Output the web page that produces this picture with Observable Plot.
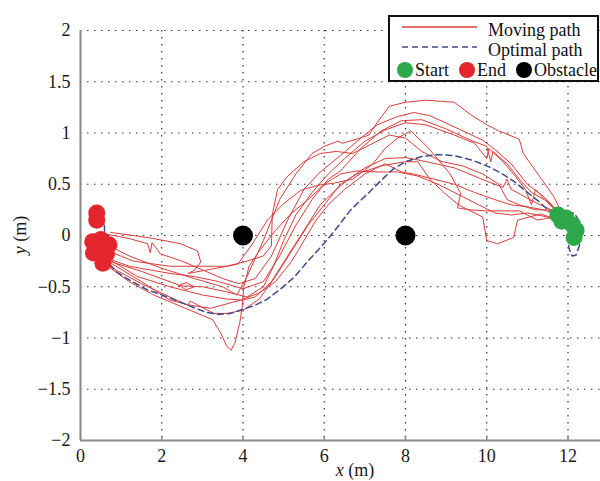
<!DOCTYPE html>
<html>
<head>
<meta charset="utf-8">
<script src="https://cdn.jsdelivr.net/npm/d3@7"></script>
<script src="https://cdn.jsdelivr.net/npm/@observablehq/plot@0.6"></script>
<style>
  body { margin: 0; background: #fff; }
  #wrap { position: relative; width: 600px; height: 481px; font-family: "Liberation Serif", "DejaVu Serif", serif; }
  #legend { position: absolute; left: 0; top: 0; }
  #chart svg, #chart svg text, #chart svg g, #legend text { font-family: "Liberation Serif", "DejaVu Serif", serif !important; }
</style>
</head>
<body>
<div id="wrap">
  <div id="chart"></div>
  <svg id="legend" width="600" height="90" font-size="18">
    <rect x="389" y="16" width="209" height="65" fill="#fff" stroke="#111" stroke-width="2"></rect>
    <line x1="402" x2="477" y1="27" y2="27" stroke="#dc3b3b" stroke-width="1.5"></line>
    <text x="488" y="36" fill="#111">Moving path</text>
    <line x1="402" x2="477" y1="47" y2="47" stroke="#3f4b8c" stroke-width="1.6" stroke-dasharray="6,4"></line>
    <text x="488" y="56" fill="#111">Optimal path</text>
    <circle cx="405" cy="70" r="8" fill="#2ca84a"></circle>
    <text x="415" y="76" fill="#111">Start</text>
    <circle cx="467" cy="70" r="8" fill="#e3262e"></circle>
    <text x="477" y="76" fill="#111">End</text>
    <circle cx="524" cy="70" r="8" fill="#000"></circle>
    <text x="534" y="76" fill="#111">Obstacle</text>
  </svg>
</div>
<script>
const xTicks = [0, 2, 4, 6, 8, 10, 12];
const yTicks = [-2, -1.5, -1, -0.5, 0, 0.5, 1, 1.5, 2];

const optimalPath = [
  [12.0,0.0],[12.02,-0.12],[12.1,-0.2],[12.2,-0.19],[12.28,-0.1],[12.3,0.02],[12.26,0.15],[12.15,0.22],
  [12.0,0.22],[11.85,0.19],[11.65,0.21],[11.45,0.27],[11.26,0.34],[11.0,0.42],[10.7,0.52],[10.35,0.61],
  [10.0,0.68],[9.6,0.74],[9.2,0.78],[8.8,0.79],[8.4,0.77],[8.0,0.72],[7.7,0.65],[7.46,0.56],[7.1,0.42],
  [6.65,0.25],[6.4,0.12],[6.16,0.0],[5.9,-0.12],[5.6,-0.25],[5.25,-0.41],[4.9,-0.53],[4.6,-0.62],
  [4.3,-0.68],[4.0,-0.72],[3.7,-0.76],[3.4,-0.77],[3.1,-0.75],[2.64,-0.68],[2.14,-0.6],[1.65,-0.53],
  [1.23,-0.44],[0.9,-0.36],[0.72,-0.28],[0.62,-0.15],[0.6,0.0],[0.58,0.14],[0.52,0.22],[0.42,0.26]
];

const path1 = [[0.6,-0.08],[1.2,-0.2],[2.0,-0.32],[2.8,-0.42],[3.5,-0.5],[3.85,-0.58],[4.1,-0.4],[4.5,-0.05],[4.9,0.35],[5.3,0.6],[5.7,0.8],[6.0,0.87],[6.33,0.92],[6.45,0.9],[6.8,0.94],[7.1,0.98],[7.3,1.1],[7.6,1.26],[8.0,1.3],[8.5,1.32],[9.2,1.3],[9.6,1.18],[10.0,1.08],[10.3,1.02],[10.8,0.94],[10.9,0.8],[11.15,0.66],[11.4,0.52],[11.65,0.38],[11.85,0.22]];
const path2 = [[0.55,0.02],[1.2,-0.03],[1.65,-0.08],[1.72,-0.17],[1.76,-0.07],[1.97,-0.18],[2.5,-0.25],[3.03,-0.34],[3.5,-0.42],[3.9,-0.47],[4.3,-0.42],[4.7,-0.2],[5.1,0.15],[5.5,0.45],[5.9,0.62],[6.4,0.78],[6.9,0.95],[7.3,1.08],[7.8,1.16],[8.2,1.2],[8.6,1.17],[9.2,1.06],[9.9,0.93],[10.2,0.84],[10.6,0.7],[11.0,0.5],[11.4,0.38],[11.75,0.24]];
const path3 = [[0.5,-0.2],[1.2,-0.3],[2.2,-0.37],[2.8,-0.4],[3.4,-0.45],[4.0,-0.52],[4.5,-0.45],[4.9,-0.2],[5.3,0.1],[5.7,0.35],[6.1,0.55],[6.4,0.63],[6.9,0.85],[7.4,1.02],[7.9,1.12],[8.4,1.13],[9.0,1.04],[9.6,0.93],[10.0,0.87],[10.1,0.72],[10.15,0.82],[10.5,0.7],[10.8,0.55],[11.1,0.42],[11.5,0.33],[11.8,0.2]];
const path4 = [[0.7,-0.25],[1.5,-0.35],[2.4,-0.48],[2.6,-0.53],[2.8,-0.5],[2.6,-0.46],[2.4,-0.49],[3.0,-0.5],[3.6,-0.55],[4.1,-0.6],[4.5,-0.5],[4.75,-0.3],[5.0,-0.05],[5.3,0.2],[5.7,0.42],[6.1,0.6],[6.5,0.75],[7.0,0.92],[7.5,1.03],[8.0,1.1],[8.5,1.08],[9.2,0.98],[9.7,0.9],[10.0,0.75],[10.05,0.85],[10.4,0.72],[10.7,0.58],[10.95,0.45],[11.1,0.3],[11.2,0.45],[11.5,0.32],[11.9,0.16]];
const path5 = [[0.74,0.03],[1.3,0.0],[1.8,-0.03],[2.46,-0.08],[2.88,-0.15],[2.96,-0.26],[2.8,-0.34],[2.65,-0.37],[3.2,-0.33],[3.87,-0.28],[4.2,-0.1],[4.6,0.15],[5.0,0.31],[5.42,0.44],[5.84,0.49],[6.23,0.51],[6.7,0.55],[7.2,0.7],[7.5,0.85],[7.8,0.95],[8.13,1.02],[8.55,0.86],[9.1,0.6],[9.36,0.41],[9.28,0.27],[9.6,0.25],[10.0,0.24],[10.4,0.24],[10.8,0.24],[11.25,0.15],[11.65,0.18]];
const path6 = [[0.6,-0.28],[1.2,-0.45],[1.8,-0.58],[2.4,-0.68],[3.0,-0.78],[3.25,-0.82],[3.45,-0.95],[3.6,-1.08],[3.7,-1.12],[3.8,-1.05],[3.92,-0.85],[3.98,-0.7],[4.02,-0.5],[4.15,-0.3],[4.4,-0.15],[4.8,0.05],[5.2,0.22],[5.6,0.35],[6.0,0.5],[6.4,0.6],[6.8,0.63],[7.3,0.62],[7.8,0.62],[8.3,0.58],[8.8,0.5],[9.3,0.4],[9.8,0.3],[10.2,0.22],[10.6,0.2],[11.0,0.22],[11.5,0.18],[11.9,0.1]];
const path7 = [[0.7,-0.3],[1.5,-0.47],[2.2,-0.6],[2.64,-0.68],[2.7,-0.64],[3.28,-0.76],[3.6,-0.76],[4.0,-0.73],[4.4,-0.62],[4.8,-0.4],[5.2,-0.15],[5.6,0.1],[6.0,0.3],[6.4,0.5],[6.8,0.6],[7.4,0.68],[8.0,0.72],[8.3,0.72],[8.62,0.54],[9.0,0.4],[9.3,0.3],[9.9,0.18],[10.0,-0.05],[10.27,-0.08],[10.66,-0.02],[10.76,0.15],[11.33,0.21],[11.7,0.16]];
const path8 = [[0.5,-0.12],[1.3,-0.25],[2.2,-0.3],[3.0,-0.3],[3.6,-0.3],[4.1,-0.25],[4.5,-0.2],[4.7,-0.1],[4.72,0.2],[4.85,0.45],[5.1,0.58],[5.5,0.72],[5.9,0.8],[6.3,0.82],[6.7,0.8],[7.2,0.9],[7.6,0.98],[8.0,0.95],[8.4,0.82],[8.9,0.72],[9.4,0.68],[9.9,0.6],[10.3,0.5],[10.5,0.35],[10.8,0.3],[11.2,0.25],[11.6,0.25],[11.8,0.2]];
const path9 = [[0.65,-0.22],[1.4,-0.4],[2.2,-0.5],[3.0,-0.58],[3.6,-0.62],[4.0,-0.63],[4.3,-0.6],[4.7,-0.45],[5.1,-0.2],[5.5,0.05],[5.9,0.3],[6.3,0.45],[6.6,0.55],[7.0,0.66],[7.5,0.75],[8.0,0.76],[8.4,0.73],[9.2,0.66],[10.0,0.53],[10.4,0.47],[10.5,0.55],[10.6,0.45],[10.84,0.4],[11.2,0.32],[11.65,0.24],[11.85,0.2]];
const path10 = [[0.75,-0.27],[1.5,-0.45],[2.2,-0.63],[2.7,-0.68],[3.2,-0.71],[3.94,-0.63],[4.4,-0.56],[4.8,-0.45],[5.2,-0.25],[5.5,-0.05],[5.8,0.15],[6.1,0.3],[6.5,0.45],[7.0,0.6],[7.5,0.7],[7.9,0.62],[8.2,0.6],[8.7,0.55],[9.2,0.5],[9.7,0.42],[10.2,0.35],[10.6,0.3],[11.0,0.28],[11.4,0.25],[11.75,0.2]];

const movingPaths = [path1, path2, path3, path4, path5, path6, path7, path8, path9, path10];

const startPoints = [[11.75,0.2],[11.95,0.17],[12.12,0.1],[12.2,0.05],[12.15,-0.02],[11.85,0.14]];
const endPoints = [[0.4,0.22],[0.4,0.15],[0.5,-0.04],[0.7,-0.09],[0.32,-0.17],[0.45,-0.12],[0.64,-0.18],[0.55,-0.27],[0.3,-0.06]];
const obstacles = [[4,0],[8,0]];

const movingRows = movingPaths.flatMap((p, i) => p.map(([x, y]) => ({run: i, x, y})));
const fmt = d => d < 0 ? "\u2212" + Math.abs(d) : String(d);
const px = d => d[0], py = d => d[1];
const serif = "'Liberation Serif', 'DejaVu Serif', serif";

const chart = Plot.plot({
  width: 600,
  height: 481,
  marginLeft: 80,
  marginRight: 0,
  marginTop: 30,
  marginBottom: 41,
  x: {domain: [0, 12.8]},
  y: {domain: [-2, 2]},
  style: {fontFamily: serif, fontSize: "18px", color: "#1a1a1a", background: "#fff", overflow: "visible"},
  marks: [
    Plot.ruleX(xTicks.filter(d => d > 0), {stroke: "#333", strokeWidth: 1.2, strokeDasharray: "1.5,5.5"}),
    Plot.ruleY(yTicks.filter(d => d > -2), {stroke: "#333", strokeWidth: 1.2, strokeDasharray: "1.5,5.5"}),
    Plot.line(movingRows, {x: "x", y: "y", z: "run", stroke: "#dc3b3b", strokeWidth: 1}),
    Plot.line(optimalPath, {x: px, y: py, stroke: "#3f4b8c", strokeWidth: 1.5, strokeDasharray: "6,4"}),
    Plot.dot(obstacles, {x: px, y: py, r: 10, fill: "#000"}),
    Plot.dot(startPoints, {x: px, y: py, r: 8.5, fill: "#2ca84a"}),
    Plot.dot(endPoints, {x: px, y: py, r: 8.5, fill: "#e3262e"}),
    Plot.ruleX([0], {stroke: "#8a8a8a", strokeWidth: 2}),
    Plot.ruleY([-2], {stroke: "#8a8a8a", strokeWidth: 2}),
    Plot.ruleX(xTicks, {y1: -2, y2: -1.955, stroke: "#8a8a8a", strokeWidth: 1.5}),
    Plot.axisX({ticks: xTicks, tickSize: 0, tickPadding: 9, label: null, fontSize: 18}),
    Plot.axisY({ticks: yTicks, tickSize: 0, tickPadding: 10, label: null, tickFormat: fmt, fontSize: 18})
  ]
});
document.getElementById("chart").appendChild(chart);

const svg = d3.select(chart);
const xt = svg.append("text").attr("x", 355).attr("y", 476).attr("text-anchor", "middle")
  .attr("font-size", 18).attr("fill", "#1a1a1a");
xt.append("tspan").attr("font-style", "italic").text("x");
xt.append("tspan").text(" (m)");
const yt = svg.append("text").attr("transform", "translate(26,235) rotate(-90)").attr("text-anchor", "middle")
  .attr("font-size", 18).attr("fill", "#1a1a1a");
yt.append("tspan").attr("font-style", "italic").text("y");
yt.append("tspan").text(" (m)");
</script>
</body>
</html>
